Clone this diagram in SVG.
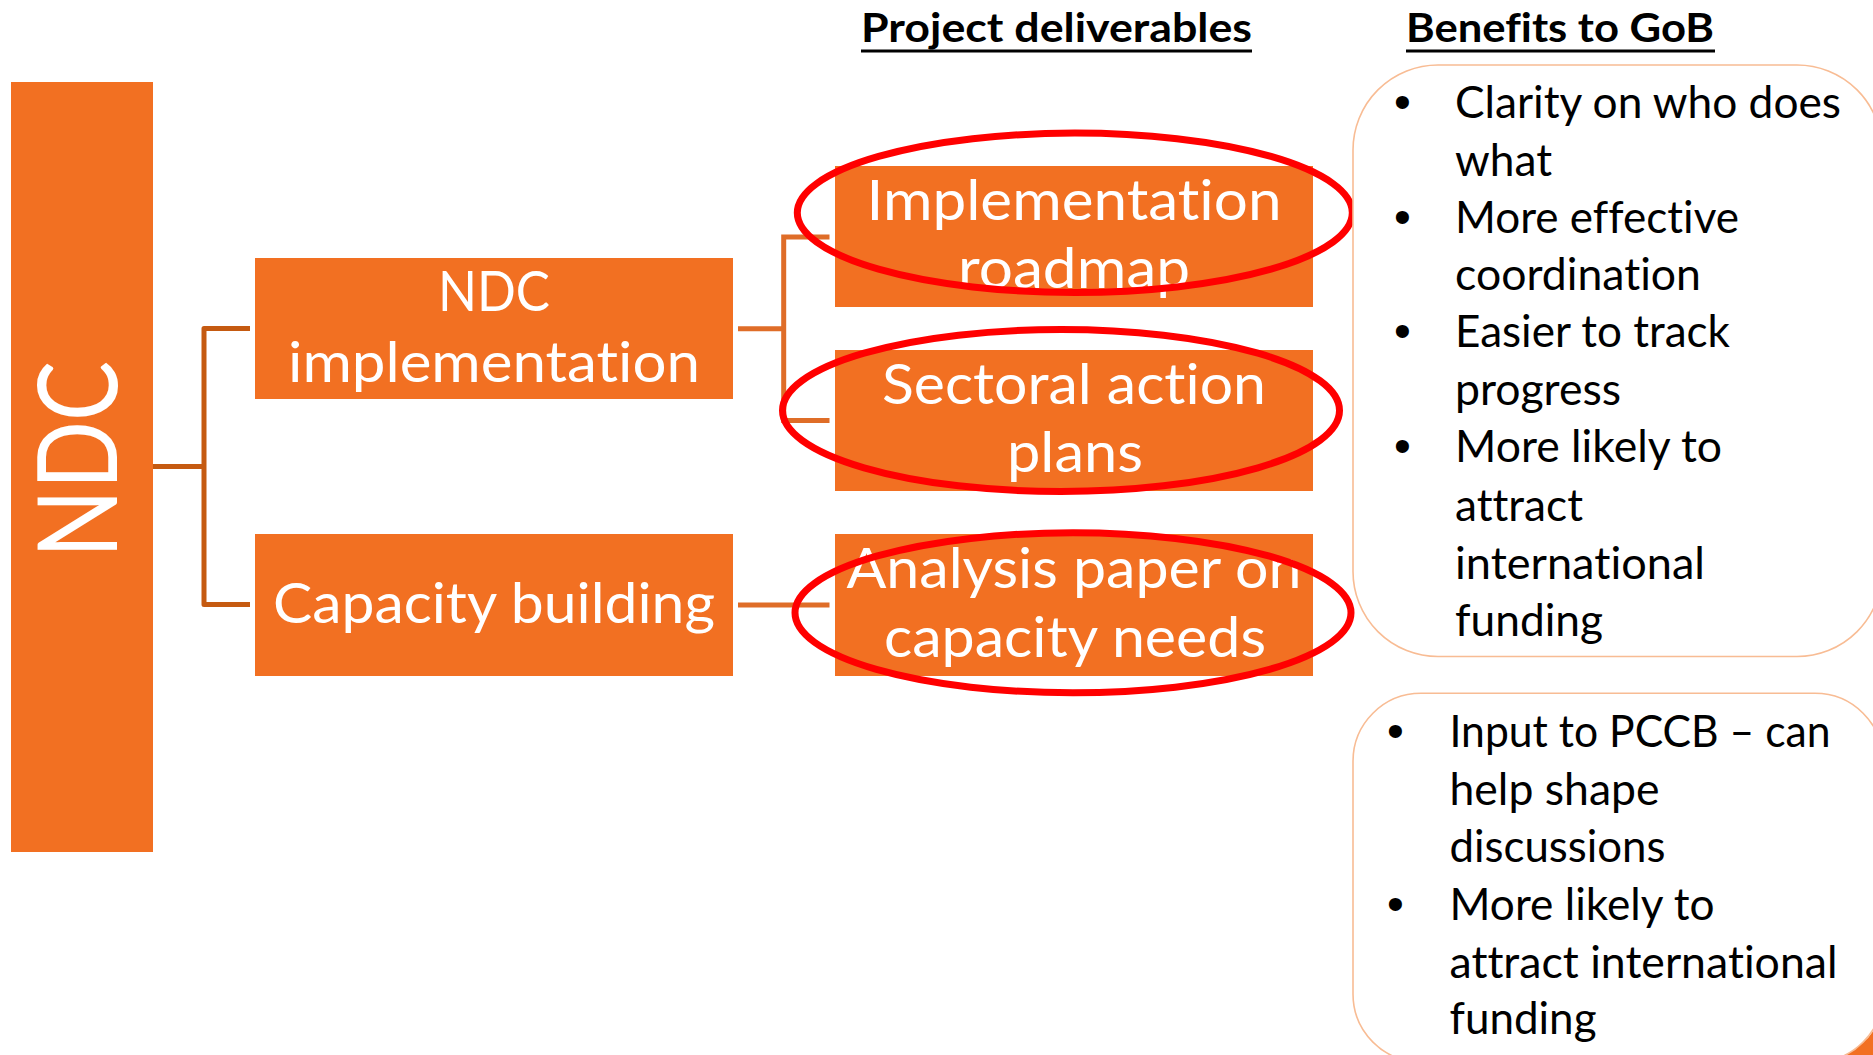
<svg xmlns="http://www.w3.org/2000/svg" width="1873" height="1055" viewBox="0 0 1873 1055">
<style>
  text { font-variant-ligatures: none; font-feature-settings: "liga" 0, "clig" 0, "dlig" 0; }
  .box { fill: #F27022; }
  .wt { fill: #FFFFFF; font-family: Lato, "Open Sans", sans-serif; font-size: 57px; text-anchor: middle; }
  .hd { fill: #000000; font-family: Lato, "Open Sans", sans-serif; font-size: 41px; font-weight: bold; }
  .bt { fill: #000000; font-family: Lato, "Open Sans", sans-serif; font-size: 44px; }
  .bl { fill: #000000; font-family: "Liberation Sans", Arial, sans-serif; font-size: 48px; text-anchor: middle; }
  .panel { fill: #FFFFFF; stroke: #F8BC94; stroke-width: 1.6; }
  .cl { fill: none; stroke: #C55A11; stroke-width: 5; stroke-linejoin: round; }
  .cr { fill: none; stroke: #DF6D28; stroke-width: 5; }
  .ring { fill: none; stroke: #FF0000; stroke-width: 7; }
  .ul { stroke: #000000; stroke-width: 3; }
</style>
<rect width="1873" height="1055" fill="#FFFFFF"/>

<g id="headings">
  <text class="hd" x="861" y="42" textLength="391" lengthAdjust="spacingAndGlyphs">Project deliverables</text>
  <line class="ul" x1="861" y1="51" x2="1252" y2="51"/>
  <text class="hd" x="1406" y="42" textLength="308" lengthAdjust="spacingAndGlyphs">Benefits to GoB</text>
  <line class="ul" x1="1406" y1="51" x2="1715" y2="51"/>
</g>

<g id="connectors">
  <path class="cl" d="M153,466.5 H204 M250,328.5 H204 V604.5 H250"/>
  <path class="cr" d="M738,328.7 H783.7 M829.5,237 H783.7 V420.5 H829.5"/>
  <path class="cr" d="M738,605 H829.5"/>
</g>

<g id="node-ndc">
  <rect class="box" x="11" y="82" width="142" height="770"/>
  <text class="wt" transform="translate(117,459.4) rotate(-90)" style="font-size:110px" textLength="197" lengthAdjust="spacingAndGlyphs">NDC</text>
</g>

<g id="node-ndc-implementation">
  <rect class="box" x="255" y="258" width="478" height="141"/>
  <text class="wt" x="494" y="310.7" textLength="112" lengthAdjust="spacingAndGlyphs">NDC</text>
  <text class="wt" x="494" y="381.7" textLength="412" lengthAdjust="spacingAndGlyphs">implementation</text>
</g>

<g id="node-capacity-building">
  <rect class="box" x="255" y="534" width="478" height="142"/>
  <text class="wt" x="494" y="622.7" textLength="442" lengthAdjust="spacingAndGlyphs">Capacity building</text>
</g>

<g id="node-implementation-roadmap">
  <rect class="box" x="835" y="166" width="478" height="141"/>
  <text class="wt" x="1074" y="219.5" textLength="415" lengthAdjust="spacingAndGlyphs">Implementation</text>
  <text class="wt" x="1074" y="288" textLength="232" lengthAdjust="spacingAndGlyphs">roadmap</text>
</g>

<g id="node-sectoral-action-plans">
  <rect class="box" x="835" y="350" width="478" height="141"/>
  <text class="wt" x="1074" y="404" textLength="384" lengthAdjust="spacingAndGlyphs">Sectoral action</text>
  <text class="wt" x="1075" y="472" textLength="136" lengthAdjust="spacingAndGlyphs">plans</text>
</g>

<g id="node-analysis-paper">
  <rect class="box" x="835" y="534" width="478" height="142"/>
  <text class="wt" x="1074" y="588" textLength="455" lengthAdjust="spacingAndGlyphs">Analysis paper on</text>
  <text class="wt" x="1075" y="656.5" textLength="382" lengthAdjust="spacingAndGlyphs">capacity needs</text>
</g>

<g id="highlights">
  <ellipse class="ring" cx="1074.8" cy="212.8" rx="277.5" ry="79.7"/>
  <ellipse class="ring" cx="1061" cy="410.5" rx="278.5" ry="81"/>
  <ellipse class="ring" cx="1073" cy="612.8" rx="278" ry="80"/>
</g>

<g id="node-benefits-deliverables">
  <rect class="panel" x="1353" y="65" width="529" height="591.5" rx="85" ry="85"/>
  <text class="bl" x="1402.5" y="117.6">•</text>
  <text class="bt" x="1455" y="117.6" textLength="386" lengthAdjust="spacingAndGlyphs">Clarity on who does</text>
  <text class="bt" x="1455" y="175.5" textLength="97" lengthAdjust="spacingAndGlyphs">what</text>
  <text class="bl" x="1402.5" y="232.7">•</text>
  <text class="bt" x="1455" y="232.7" textLength="284" lengthAdjust="spacingAndGlyphs">More effective</text>
  <text class="bt" x="1455" y="289.8" textLength="246" lengthAdjust="spacingAndGlyphs">coordination</text>
  <text class="bl" x="1402.5" y="347">•</text>
  <text class="bt" x="1455" y="347" textLength="275" lengthAdjust="spacingAndGlyphs">Easier to track</text>
  <text class="bt" x="1455" y="404.5" textLength="166" lengthAdjust="spacingAndGlyphs">progress</text>
  <text class="bl" x="1402.5" y="462.4">•</text>
  <text class="bt" x="1455" y="462.4" textLength="267" lengthAdjust="spacingAndGlyphs">More likely to</text>
  <text class="bt" x="1455" y="520.8" textLength="128" lengthAdjust="spacingAndGlyphs">attract</text>
  <text class="bt" x="1455" y="578.8" textLength="250" lengthAdjust="spacingAndGlyphs">international</text>
  <text class="bt" x="1455" y="636" textLength="148" lengthAdjust="spacingAndGlyphs">funding</text>
</g>

<g id="node-benefits-capacity">
  <path d="M1840,1056 Q1856,1049 1868,1038 L1874,1030 L1874,1056 Z" fill="#F27022"/>
  <rect class="panel" x="1353" y="693.3" width="530" height="368.7" rx="68" ry="68"/>
  <text class="bl" x="1395.5" y="746.7">•</text>
  <text class="bt" x="1449.5" y="746.7" textLength="381" lengthAdjust="spacingAndGlyphs">Input to PCCB – can</text>
  <text class="bt" x="1449.5" y="805" textLength="210" lengthAdjust="spacingAndGlyphs">help shape</text>
  <text class="bt" x="1449.5" y="861.7" textLength="216" lengthAdjust="spacingAndGlyphs">discussions</text>
  <text class="bl" x="1395.5" y="920">•</text>
  <text class="bt" x="1449.5" y="920" textLength="265" lengthAdjust="spacingAndGlyphs">More likely to</text>
  <text class="bt" x="1449.5" y="977.7" textLength="388" lengthAdjust="spacingAndGlyphs">attract international</text>
  <text class="bt" x="1449.5" y="1034" textLength="147" lengthAdjust="spacingAndGlyphs">funding</text>
</g>
</svg>
